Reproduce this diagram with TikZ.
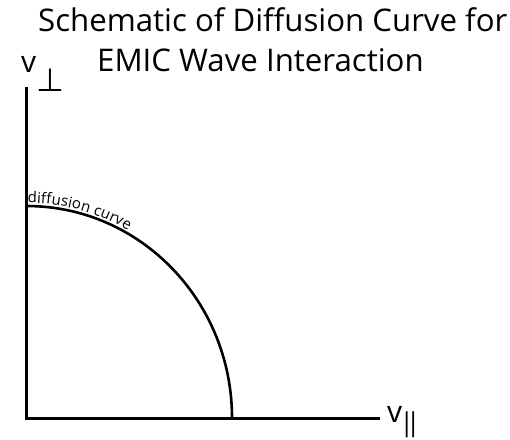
\documentclass[tikz,border=0pt]{standalone}
\usepackage{fontspec}
\setmainfont{Open Sans}
\newfontfamily\symfont{DejaVu Sans}
\usetikzlibrary{decorations.text}
\tikzset{
  axis/.style={line width=3pt},
  curveline/.style={line width=2.6pt},
  titletext/.style={inner sep=0pt, anchor=base west, font=\fontsize{31.2}{31.2}\selectfont},
  labeltext/.style={inner sep=0pt, font=\fontsize{30}{30}\selectfont}
}
\begin{document}
\begin{tikzpicture}[x=1pt,y=1pt]
\useasboundingbox (0,0) rectangle (510,439);
\coordinate (O) at (26.5,21);
\coordinate (top) at (26.5,352);
\coordinate (right) at (380,21);
\coordinate (cstart) at (26.5,233);
\draw[axis] (top) -- (O) -- (right);
\draw[curveline] (cstart) arc[start angle=90, end angle=0, x radius=205.5, y radius=212];
\path[decorate, decoration={text along path, raise=3pt, text align={left indent=1pt},
  text={|\fontsize{15}{15}\selectfont|diffusion curve}}]
  (cstart) arc[start angle=90, end angle=0, x radius=205.5, y radius=212];
\node[titletext] (t1) at (38,407) {Schematic of Diffusion Curve for};
\node[titletext] (t2) at (97,367) {EMIC Wave Interaction};
\node[labeltext, anchor=base west] (vperp) at (21,366) {v};
\node[inner sep=0pt, anchor=base west] (perp) at (36,347) {\symfont\fontsize{32}{32}\selectfont ⊥};
\node[labeltext, anchor=base west] (vpar) at (387,17) {v};
\node[inner sep=0pt, anchor=center] (par) at (410,14) {\fontsize{26}{26}\selectfont|\kern-8pt|};
\end{tikzpicture}
\end{document}
